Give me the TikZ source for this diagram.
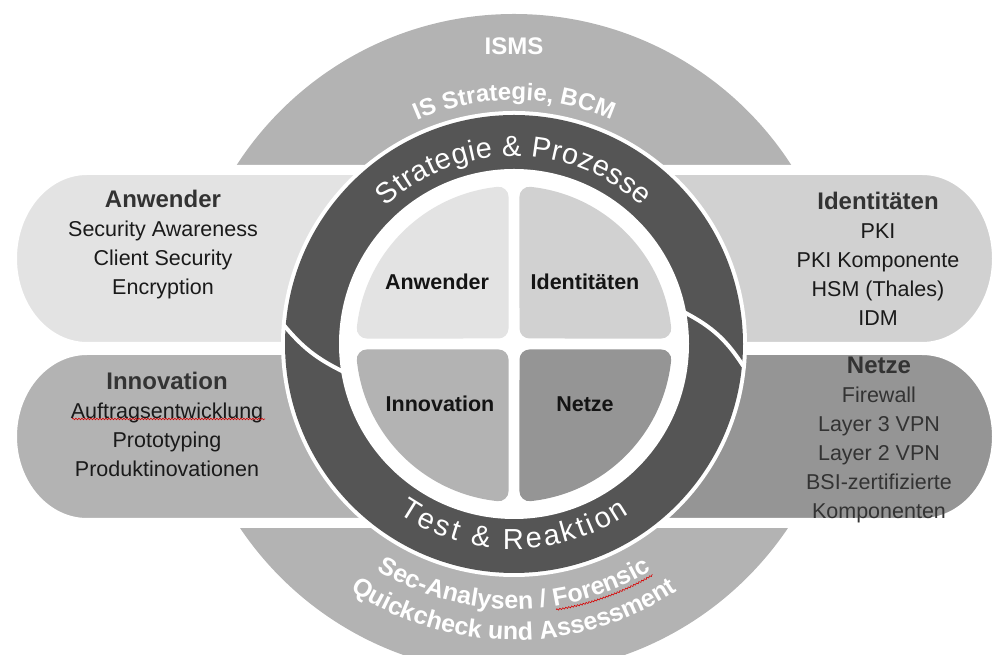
\documentclass[tikz,border=0pt]{standalone}
\usepackage{fontspec}
\setmainfont{Liberation Sans}
\newcommand\bandheadfont{\bfseries\fontsize{24}{29}\selectfont}
% tracking used inside the ring captions
\newcommand\ka{\kern0.5pt}
\newcommand\kb{\kern2.8pt}
\usetikzlibrary{decorations.text,decorations.pathmorphing}
\definecolor{ismsgray}{HTML}{B3B3B3}
\definecolor{ringgray}{HTML}{555555}
\definecolor{userfill}{HTML}{E3E3E3}
\definecolor{idfill}{HTML}{D1D1D1}
\definecolor{innofill}{HTML}{B3B3B3}
\definecolor{netfill}{HTML}{959595}
\definecolor{headtext}{HTML}{333333}
\definecolor{itemtext}{HTML}{1A1A1A}
\begin{document}
\begin{tikzpicture}[x=1pt,y=1pt,
  band/.style={draw=white, line width=10pt, line join=round},
  quad/.style={line width=20pt, line join=round},
  bandtext/.style={align=center, text=itemtext, font=\fontsize{21.5}{29}\selectfont},
  quadlabel/.style={font=\bfseries\fontsize{21.5}{26}\selectfont, text=black!92},
  seam/.style={draw=white, line width=4pt},
  spell/.style={draw=red!85!black, line width=0.6pt, decorate,
    decoration={snake, amplitude=0.8pt, segment length=3pt}},
  ringtext/.style={decorate, decoration={text along path, text align=center,
    text color=white, text={|\fontsize{29}{33}\selectfont|#1}}},
  outertext/.style 2 args={decorate, decoration={text along path, text align=center,
    text color=white, text={|\bfseries\fontsize{#1}{28}\selectfont|#2}}},
]
\useasboundingbox (0,0) rectangle (994,655);
\clip (0,0) rectangle (994,655);
\coordinate (C) at (514,311);

% outer ISMS disk
\fill[ismsgray] (C) circle[radius=330];

% side bands
\filldraw[band, fill=userfill] (470,485) -- (87,485)
  arc[start angle=90, end angle=270, x radius=75, y radius=88.5] -- (470,308) -- cycle;
\filldraw[band, fill=innofill] (470,305) -- (87,305)
  arc[start angle=90, end angle=270, x radius=75, y radius=86.5] -- (470,132) -- cycle;
\filldraw[band, fill=idfill] (560,485) -- (922,485)
  arc[start angle=90, end angle=-90, x radius=75, y radius=88.5] -- (560,308) -- cycle;
\filldraw[band, fill=netfill] (560,305) -- (922,305)
  arc[start angle=90, end angle=-90, x radius=75, y radius=86.5] -- (560,132) -- cycle;

% dark cycle ring
\fill[white] (C) circle[radius=233];
\fill[ringgray] (C) circle[radius=229];
\begin{scope}[shift={(C)}]
  \draw[seam] (175.3:231) to[bend right=12] (189.2:173);
  \draw[seam] (10.6:173) to[bend left=15] (-5.7:231);
\end{scope}
\fill[white] (C) circle[radius=175];

% four quadrants
\foreach \ang/\col in {0/idfill, 90/userfill, 180/innofill, 270/netfill} {
  \begin{scope}[shift={(C)}, rotate=\ang]
    \filldraw[quad, fill=\col, draw=\col] (15.5,15.5) -- (84:148)
      arc[start angle=84, end angle=6, radius=148] -- cycle;
  \end{scope}
}

% quadrant labels
\node[quadlabel] (qanw) at (437,373) {Anwender};
\node[quadlabel] (qid) at (585,373) {Identitäten};
\node[quadlabel] (qinn) at (440,251) {Innovation};
\node[quadlabel] (qnet) at (585,251) {Netze};

% band texts
\node[bandtext] (tanw) at (163,410)
  {{\bandheadfont\color{headtext}Anwender}\\Security Awareness\\Client Security\\Encryption};
\node[bandtext] (tid) at (878,396.5)
  {{\bandheadfont\color{headtext}Identitäten}\\PKI\\PKI Komponente\\HSM (Thales)\\IDM};
\node[bandtext] (tinn) at (167,231)
  {{\bandheadfont\color{headtext}Innovation}\\Auftragsentwicklung\\Prototyping\\Produktinovationen};
\node[bandtext, text=headtext] (tnet) at (879,215.5)
  {{\bandheadfont Netze}\\Firewall\\Layer 3 VPN\\Layer 2 VPN\\BSI-zertifizierte\\Komponenten};
\draw[spell] (72,236) -- (265,236);

% ISMS disk texts
\node[white, font=\bfseries\fontsize{24}{28}\selectfont] (isms) at (514,609) {ISMS};
\path[outertext={24}{IS Strategie, BCM}] ([shift={(150:244)}]C) arc[start angle=150, end angle=30, radius=244];
\path[outertext={25}{Sec-Analysen / Forensic}] ([shift={(200:265)}]C) arc[start angle=200, end angle=340, radius=265];
\path[outertext={25}{Quickcheck und Assessment}] ([shift={(200:296)}]C) arc[start angle=200, end angle=340, radius=296];
\draw[spell] ([shift={(279:269)}]C) arc[start angle=279, end angle=301, radius=269];

% ring texts
\path[ringtext={S{\ka}t{\ka}r{\ka}a{\ka}t{\ka}e{\ka}g{\ka}i{\ka}e{\ka} {\ka}{\&}{\ka} {\ka}P{\ka}r{\ka}o{\ka}z{\ka}e{\ka}s{\ka}s{\ka}e}]
  ([shift={(170:188)}]C) arc[start angle=170, end angle=10, radius=188];
\path[ringtext={T{\kb}e{\kb}s{\kb}t{\kb} {\kb}{\&}{\kb} {\kb}R{\kb}e{\kb}a{\kb}k{\kb}t{\kb}i{\kb}o{\kb}n}]
  ([shift={(190:205)}]C) arc[start angle=190, end angle=350, radius=205];
\end{tikzpicture}
\end{document}
